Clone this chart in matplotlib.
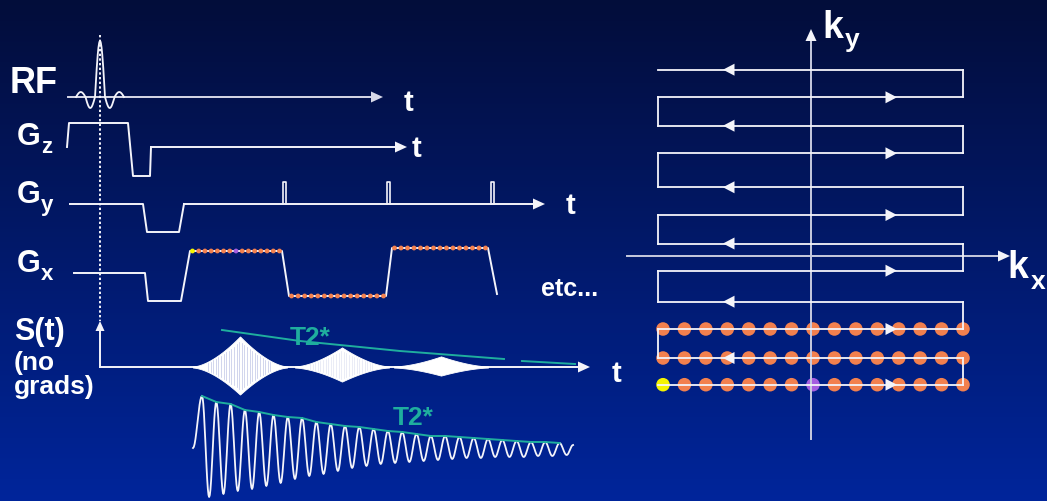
import numpy as np
import matplotlib.pyplot as plt
from matplotlib.patches import Polygon

plt.rcParams['font.family'] = ['Liberation Sans', 'DejaVu Sans']

W, H = 1047, 502

# ---- pulse sequence data (time axis in px, amplitude in px above baseline) ----
rf_base = 98
rf_edges = [76, 85.5, 95, 105, 114.5, 124]     # lobe boundaries of the sinc pulse
rf_heights = [5, -11, 56, -11, 5]

gz_base = 148
gz_t = [67, 69, 128, 133, 150, 151]
gz_a = [0, 24, 24, -29, -29, 0]

gy_base = 205
gy_t = [70, 143, 147, 179, 184]
gy_a = [0, 0, -28, -28, 0]
gy_blips = [283, 387, 491]
gy_blip_h = 22

gx_base = 274
gx_t = [74, 145, 148, 181, 190, 282, 289, 386, 392, 488, 497]
gx_a = [0, 0, -28, -28, 22, 22, -23, -23, 25, 25, -21]
plateaus = [(190, 282), (289, 386), (392, 488)]
n_samples = 15

# echoes on S(t)
sig_base = 368
echo_t = [240, 342, 441]
echo_up = [30, 19, 10]
echo_dn = [27, 14, 8]
echo_tex = [0.75, 0.35, 0.0]
echo_half = 47

# upper T2* envelope
t2a_t = [222, 300, 400, 504]
t2a_y = [331, 342, 352, 360]
t2b_t = [522, 575]
t2b_y = [362, 365]

# free induction decay, peak tops / trough depths per cycle
fid_base = 449
fid_start = 193
fid_peak0 = 202
fid_period = 14.3
fid_top = [52, 46, 44, 38, 36, 33, 31, 30, 26, 24, 22, 21, 19, 17, 16, 14, 12,
           12, 11, 10, 9, 8, 7, 6, 6, 5]
fid_bot = [49, 46, 43, 41, 38, 35, 31, 28, 26, 23, 20, 18, 16, 15, 14, 13, 12,
           11, 10, 10, 9, 9, 9, 8, 8, 7]

# ---- k-space data ----
row_y = [70.7, 98.3, 126.7, 154.3, 188.3, 216, 244.5, 271.7, 302.7, 330, 359, 385.7]
kx_left, kx_right = 658, 963
ky_x = 811
kx_y = 257
n_sampled_rows = 3

WHITE = '#f4f4fa'
GREY = '#c8cbdf'
TEAL = '#1fae9e'
ORANGE = '#f2804e'
YELLOW = '#f4f400'
PURPLE = '#a45ee0'

fig = plt.figure(figsize=(W / 100, H / 100), dpi=100)
ax = fig.add_axes([0, 0, 1, 1])
ax.set_xlim(0, W)
ax.set_ylim(H, 0)
ax.axis('off')

# vertical blue gradient background
top = np.array([3, 13, 58]) / 255
bot = np.array([0, 37, 155]) / 255
f = np.linspace(0, 1, 256)[:, None, None]
ax.imshow(top + (bot - top) * f, extent=[0, W, H, 0], aspect='auto', zorder=0)


def head(x, y, d, length=12, half=5.5, color=WHITE, z=5):
    # filled triangle arrowhead with tip at (x, y), direction d in {'r','l','u'}
    if d == 'r':
        pts = [(x, y), (x - length, y - half), (x - length, y + half)]
    elif d == 'l':
        pts = [(x, y), (x + length, y - half), (x + length, y + half)]
    else:
        pts = [(x, y), (x - half, y + length), (x + half, y + length)]
    ax.add_patch(Polygon(pts, closed=True, color=color, lw=0, zorder=z))


def axis_arrow(x0, x1, y, color=WHITE, lw=1.4):
    ax.plot([x0, x1 - 8], [y, y], color=color, lw=lw, zorder=3)
    head(x1, y, 'r', color=color)


def txt(x, y, s, size, color='white'):
    ax.text(x, y, s, fontsize=size, fontweight='bold', color=color,
            ha='left', va='baseline', zorder=6)


# RF pulse
rx, ry = [], []
for i, h in enumerate(rf_heights):
    xs = np.linspace(rf_edges[i], rf_edges[i + 1], 30)
    rx.extend(xs)
    ry.extend(rf_base - h * np.sin(np.pi * (xs - xs[0]) / (xs[-1] - xs[0])))
axis_arrow(68, 383, rf_base, color='#d8d9e8')
ax.plot(rx, ry, color=WHITE, lw=1.3, zorder=4)

# gradients
ax.plot(gz_t, [gz_base - a for a in gz_a], color=WHITE, lw=1.4, zorder=3)
axis_arrow(gz_t[-1], 407, gz_base)

ax.plot(gy_t, [gy_base - a for a in gy_a], color=WHITE, lw=1.4, zorder=3)
axis_arrow(gy_t[-1], 545, gy_base)
for b in gy_blips:
    ax.plot([b, b, b + 3, b + 3], [gy_base, gy_base - gy_blip_h, gy_base - gy_blip_h, gy_base],
            color=WHITE, lw=1.2, zorder=3)

ax.plot(gx_t, [gx_base - a for a in gx_a], color=WHITE, lw=1.4, zorder=3)
for k, (p0, p1) in enumerate(plateaus):
    level = gx_base - gx_a[gx_t.index(p0)]
    xs = np.linspace(p0 + 2.5, p1 - 2.5, n_samples)
    cols = [ORANGE] * n_samples
    if k == 0:
        cols[0] = YELLOW
        cols[n_samples // 2] = PURPLE
    ax.scatter(xs, [level] * n_samples, s=12, c=cols, lw=0, zorder=4)

# excitation marker
ax.plot([100, 100], [36, 322], color=WHITE, lw=1.4, ls=(0, (1.2, 1.2)), zorder=4)

# S(t) axes
ax.plot([100, 100], [sig_base, 330], color=WHITE, lw=1.4, zorder=3)
head(100, 322, 'u', length=10, half=4.5)
axis_arrow(100, 590, sig_base)

# echoes: diamond-shaped envelopes filled in white
for c, up, dn, tex in zip(echo_t, echo_up, echo_dn, echo_tex):
    xs = np.linspace(c - echo_half, c + echo_half, 400)
    env = np.clip(1 - np.abs(xs - c) / echo_half, 0, 1) ** 1.6
    ax.fill_between(xs, sig_base - up * env - 0.6, sig_base + dn * env + 0.6,
                    color='white', lw=0.6, zorder=4)
    if tex > 0:
        for xl in np.arange(c - 32, c + 32, 2.6):
            e = (1 - abs(xl - c) / echo_half) ** 1.6
            ax.plot([xl, xl], [sig_base - up * e * 0.85, sig_base + dn * e * 0.85],
                    color='#aab2de', lw=0.5, alpha=tex, zorder=5)

ax.plot(t2a_t, t2a_y, color=TEAL, lw=1.4, zorder=5)
ax.plot(t2b_t, t2b_y, color=TEAL, lw=1.4, zorder=5)
txt(290, 345, 'T2*', 19, TEAL)

# FID
ext_x, ext_y = [fid_start], [0]
for i, (tp, bt) in enumerate(zip(fid_top, fid_bot)):
    ext_x += [fid_peak0 + i * fid_period, fid_peak0 + (i + 0.5) * fid_period]
    ext_y += [tp, -bt]
ext_x.append(ext_x[-1] + fid_period * 0.45)
ext_y.append(3)
fx, fy = [], []
for i in range(len(ext_x) - 1):
    s = np.linspace(0, 1, 12)
    fx.extend(ext_x[i] + (ext_x[i + 1] - ext_x[i]) * s)
    fy.extend(ext_y[i] + (ext_y[i + 1] - ext_y[i]) * (1 - np.cos(np.pi * s)) / 2)
ax.plot(fx, fid_base - np.array(fy), color=WHITE, lw=1.3, zorder=4)
peak_x = [fid_peak0 + i * fid_period for i in range(len(fid_top))]
ax.plot(peak_x, [fid_base - t for t in fid_top], color=TEAL, lw=1.4, zorder=5)
txt(393, 425, 'T2*', 19, TEAL)

# channel labels
txt(10, 93, 'RF', 26)
for y, sub in [(145, 'z'), (203, 'y'), (272, 'x')]:
    txt(17, y, 'G', 22)
    txt(41, y + 8, sub, 16)
txt(404, 111, 't', 21)
txt(412, 157, 't', 21)
txt(566, 214, 't', 21)
txt(612, 382, 't', 21)
txt(541, 296, 'etc...', 18)
txt(14, 340, 'S(t)', 22)
txt(14, 370, '(no', 19)
txt(14, 394, 'grads)', 19)

# ---- k-space trajectory ----
ax.plot([ky_x, ky_x], [440, 40], color=GREY, lw=1.4, zorder=3)
head(ky_x, 30, 'u', length=12, half=5.5)
ax.plot([627, 1000], [kx_y, kx_y], color=GREY, lw=1.4, zorder=3)
head(1010, kx_y, 'r', length=12, half=5.5)
txt(822, 38, 'k', 27)
txt(845, 47, 'y', 19)
txt(1007, 278, 'k', 27)
txt(1031, 289, 'x', 19)

rows = row_y[::-1]          # bottom row first
for i, y in enumerate(rows):
    right = (i % 2 == 0)
    ax.plot([kx_left, kx_right], [y, y], color=WHITE, lw=1.3, zorder=4)
    if right:
        head(897, y, 'r', length=11.5, half=6)
    else:
        head(723, y, 'l', length=11.5, half=6)
    if i + 1 < len(rows):
        xe = kx_right if right else kx_left
        ax.plot([xe, xe], [y, rows[i + 1]], color=WHITE, lw=1.3, zorder=4)
    if i < n_sampled_rows:
        xs = np.linspace(kx_left + 5, kx_right, n_samples)
        cols = [ORANGE] * n_samples
        if i == 0:
            cols[0] = YELLOW
            cols[n_samples // 2] = PURPLE
        ax.scatter(xs, [y] * n_samples, s=95, c=cols, lw=0, zorder=2)

fig.savefig('out.png', dpi=100)
